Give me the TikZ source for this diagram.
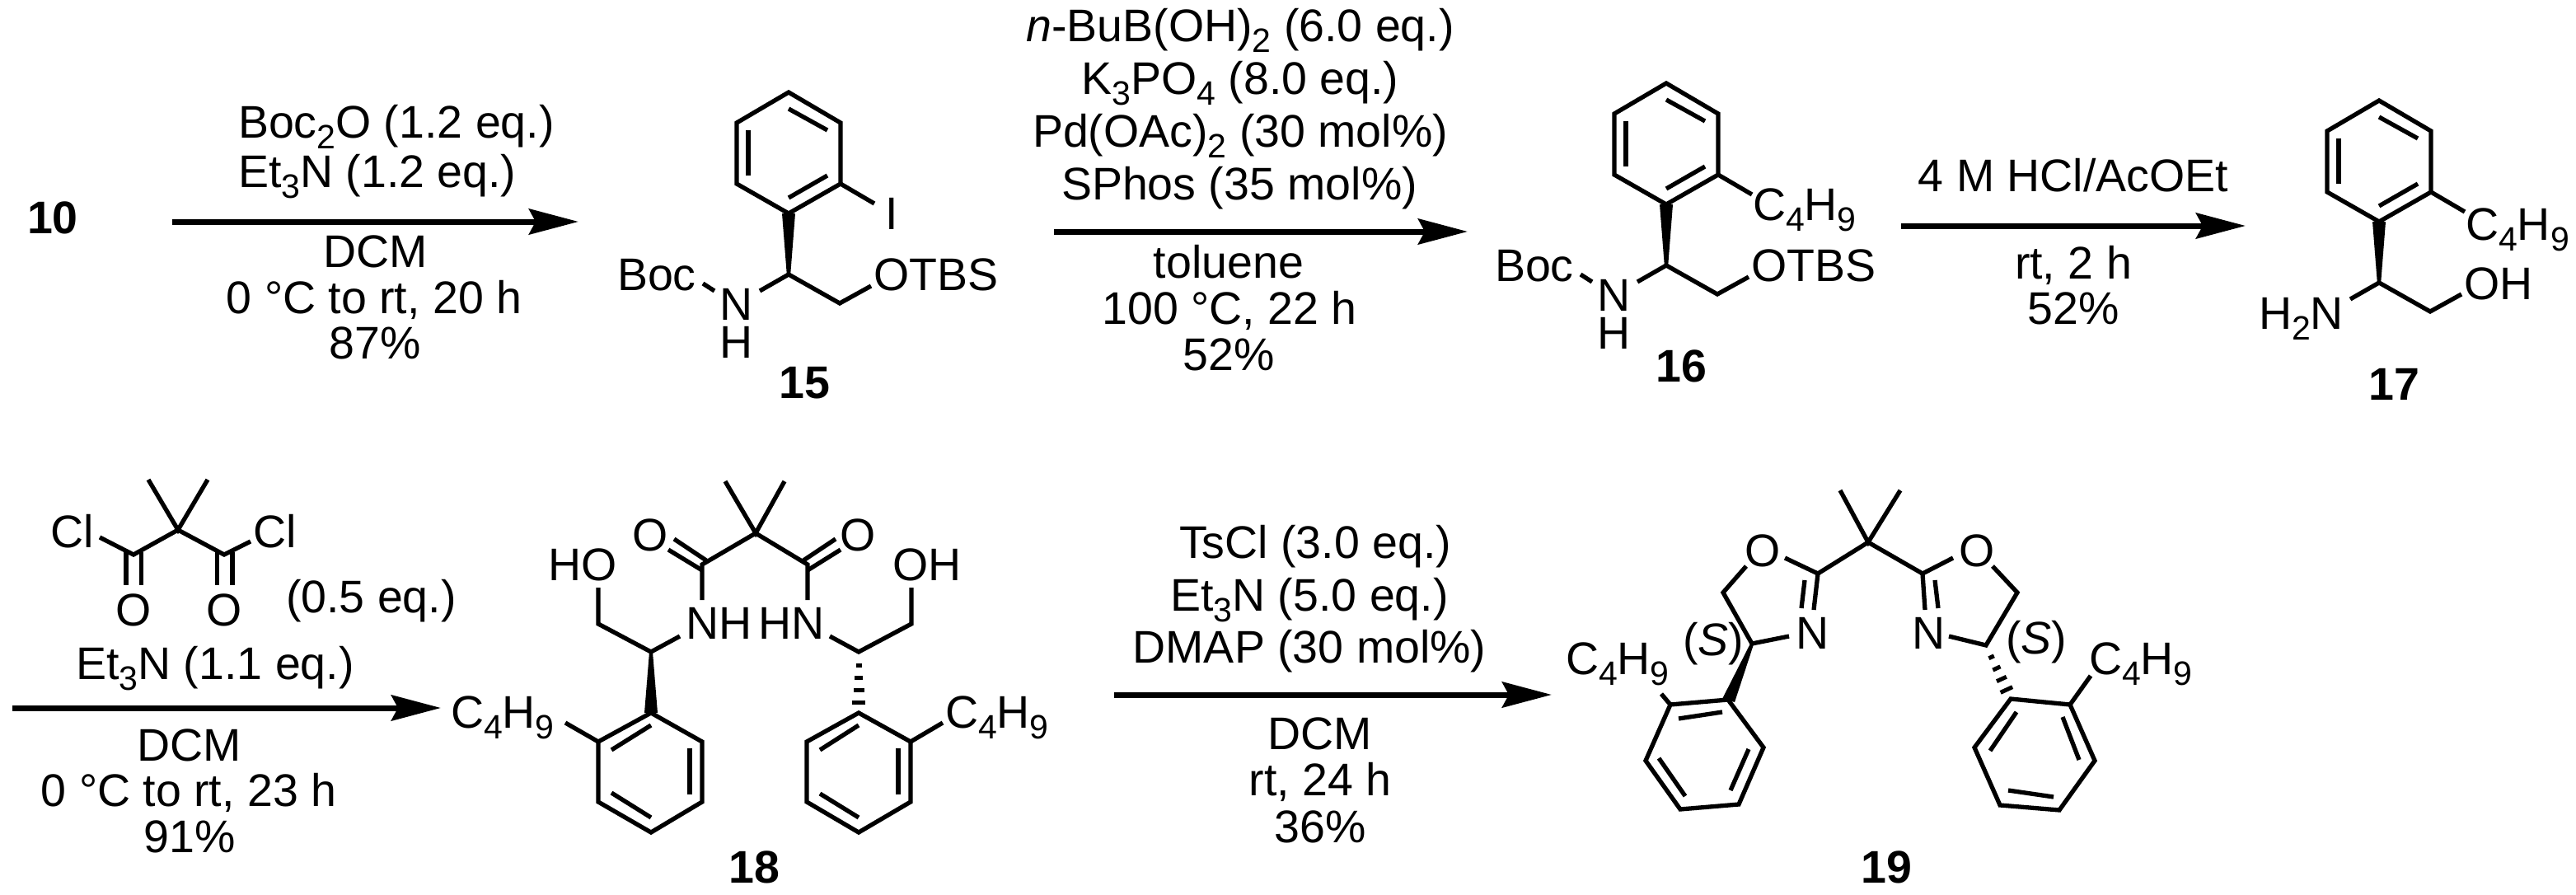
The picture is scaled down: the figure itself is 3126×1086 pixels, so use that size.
\documentclass[tikz,border=0pt]{standalone}
\usepackage{fontspec}
\setmainfont{Liberation Sans}
\usetikzlibrary{arrows.meta,calc}
\newcommand{\sbs}[1]{\raisebox{-13pt}{\fontsize{41}{41}\selectfont #1}}
\tikzset{
  bond/.style={line width=5.3pt,line cap=butt,line join=miter,miter limit=10},
  rxn/.style={line width=7pt,-{Stealth[length=60pt,width=31pt,inset=8pt]}},
  txt/.style={inner sep=0pt,outer sep=0pt,font=\fontsize{55.5}{60}\selectfont,anchor=base},
  lft/.style={txt,anchor=base west},
  lab/.style={txt,font=\fontsize{55.5}{60}\selectfont\bfseries}
}
% six-membered ring: closed outline through six named corners
\newcommand{\ringsix}[6]{\draw[bond] (#1)--(#2)--(#3)--(#4)--(#5)--(#6)--cycle;}
% hashed bond from narrow end #1 to wide end #2
\newcommand{\hashed}[2]{\foreach \t/\w in {.22/3.5,.43/5,.63/6.5,.83/8}{
  \coordinate (hp) at ($(#1)!\t!(#2)$);
  \draw[line width=5pt] ($(hp)!\w pt!90:(#2)$) -- ($(hp)!\w pt!-90:(#2)$);}}
% aryl amino-alcohol core shared by 15, 16, 17
\newcommand{\arylcore}{
  \coordinate (r1) at (957,112); \coordinate (r2) at (1020,149); \coordinate (r3) at (1020,223);
  \coordinate (r4) at (957,259); \coordinate (r5) at (894,223); \coordinate (r6) at (894,149);
  \coordinate (cs) at (957,333); \coordinate (ch) at (1019,368);
  \coordinate (ne) at (922,353); \coordinate (oe) at (1057,347); \coordinate (xe) at (1061,247);
  \ringsix{r1}{r2}{r3}{r4}{r5}{r6}
  \draw[bond] (908,158)--(908,213);
  \draw[bond] (957,132)--(1004,158);
  \draw[bond] (957,240)--(1004,213);
  \fill ($(cs)+(-2.2,0)$)--($(r4)+(-8,0)$)--($(r4)+(8,0)$)--($(cs)+(2.2,0)$)--cycle;
  \draw[bond] (ne)--(cs)--(ch)--(oe);
  \draw[bond] (r3)--(xe);
}
\begin{document}
\begin{tikzpicture}[x=1pt,y=-1pt]
\useasboundingbox (0,0) rectangle (3126,1086);

% ---------- 10 -> 15
\node[lab,anchor=base west] (n10) at (33,283) {10};
\coordinate (a1s) at (209,269); \coordinate (a1t) at (702,269);
\draw[rxn] (a1s)--(a1t);
\node[lft] (a1l1) at (289,168) {Boc\sbs{2}O (1.2 eq.)};
\node[lft] (a1l2) at (289,228) {Et\sbs{3}N (1.2 eq.)};
\node[txt] (a1l3) at (456,324) {DCM};
\node[txt] (a1l4) at (454,380) {0 °C to rt, 20 h};
\node[txt] (a1l5) at (455,435) {87\%};

% ---------- 15
\begin{scope}[name prefix=c15-]
  \arylcore
  \coordinate (be1) at (853,344); \coordinate (be2) at (867,353);
  \draw[bond] (be1)--(be2);
  \node[lft] (boc) at (749,352) {Boc};
  \node[lft] (nn) at (873,388) {N};
  \node[lft] (hh) at (873,434) {H};
  \node[lft] (otbs) at (1060,352) {OTBS};
  \node[txt] (iod) at (1082,278) {I};
  \node[lab] (lbl) at (976,483) {15};
\end{scope}

% ---------- 15 -> 16
\coordinate (a2s) at (1279,281); \coordinate (a2t) at (1781,281);
\draw[rxn] (a2s)--(a2t);
\node[txt] (a2l1) at (1505,51) {\textit{n}-BuB(OH)\sbs{2} (6.0 eq.)};
\node[txt] (a2l2) at (1505,115) {K\sbs{3}PO\sbs{4} (8.0 eq.)};
\node[txt] (a2l3) at (1505,179) {Pd(OAc)\sbs{2} (30 mol\%)};
\node[txt] (a2l4) at (1504,243) {SPhos (35 mol\%)};
\node[txt] (a2l5) at (1491,337) {toluene};
\node[txt] (a2l6) at (1492,393) {100 °C, 22 h};
\node[txt] (a2l7) at (1491,449) {52\%};

% ---------- 16
\begin{scope}[shift={(1065,-11)},name prefix=c16-]
  \arylcore
  \coordinate (be1) at (853,344); \coordinate (be2) at (867,353);
  \draw[bond] (be1)--(be2);
  \node[lft] (boc) at (749,352) {Boc};
  \node[lft] (nn) at (873,388) {N};
  \node[lft] (hh) at (873,434) {H};
  \node[lft] (otbs) at (1060,352) {OTBS};
  \node[lft] (ar) at (1062,278) {C\sbs{4}H\sbs{9}};
  \node[lab] (lbl) at (975,474) {16};
\end{scope}

% ---------- 16 -> 17
\coordinate (a3s) at (2307,274); \coordinate (a3t) at (2725,274);
\draw[rxn] (a3s)--(a3t);
\node[txt] (a3l1) at (2516,233) {4 M HCl/AcOEt};
\node[txt] (a3l2) at (2516,338) {rt, 2 h};
\node[txt] (a3l3) at (2516,393) {52\%};

% ---------- 17
\begin{scope}[shift={(1930,10)},name prefix=c17-]
  \arylcore
  \node[lft] (nh2) at (811,389) {H\sbs{2}N};
  \node[lft] (oh) at (1060,353) {OH};
  \node[lft] (ar) at (1062,281) {C\sbs{4}H\sbs{9}};
  \node[lab] (lbl) at (975,475) {17};
\end{scope}

% ---------- malonyl chloride reagent
\coordinate (m0) at (216,643); \coordinate (mm1) at (180,582); \coordinate (mm2) at (252,582);
\coordinate (ml) at (162,673); \coordinate (mr) at (272,673);
\coordinate (mcl) at (121,652); \coordinate (mcr) at (304,657);
\draw[bond] (mm1)--(m0)--(mm2);
\draw[bond] (mcl)--(ml)--(m0)--(mr)--(mcr);
\draw[bond] (153,670)--(153,710); \draw[bond] (171.5,670)--(171.5,710);
\draw[bond] (263.5,670)--(263.5,710); \draw[bond] (282,670)--(282,710);
\node[lft] (mcl1) at (61,664) {Cl};
\node[lft] (mcl2) at (307,664) {Cl};
\node[lft] (mo1) at (140,759) {O};
\node[lft] (mo2) at (250,759) {O};
\node[lft] (meq) at (347,743) {(0.5 eq.)};

% ---------- -> 18
\coordinate (a4s) at (15,859); \coordinate (a4t) at (535,859);
\draw[rxn] (a4s)--(a4t);
\node[txt] (a4l1) at (261,824) {Et\sbs{3}N (1.1 eq.)};
\node[txt] (a4l2) at (230,923) {DCM};
\node[txt] (a4l3) at (229,978) {0 °C to rt, 23 h};
\node[txt] (a4l4) at (230,1034) {91\%};

% ---------- 18
\coordinate (q) at (917,647); \coordinate (qm1) at (880,584); \coordinate (qm2) at (952,584);
\coordinate (cl) at (852,685); \coordinate (cr) at (980,685);
\coordinate (nl) at (852,728); \coordinate (nr) at (980,728);
\coordinate (sl) at (790,791); \coordinate (sr) at (1042,791);
\coordinate (nbl) at (825,772); \coordinate (nbr) at (1007,772);
\coordinate (chl) at (726,757); \coordinate (chr) at (1106,757);
\coordinate (ohl) at (726,713); \coordinate (ohr) at (1106,713);
\draw[bond] (qm1)--(q)--(qm2);
\draw[bond] (nl)--(cl)--(q)--(cr)--(nr);
\draw[bond] (811,667)--(852,692); \draw[bond] (818,654)--(857,680);
\draw[bond] (1020,667)--(980,692); \draw[bond] (1014,654)--(975,680);
\draw[bond] (ohl)--(chl)--(sl)--(nbl);
\draw[bond] (ohr)--(chr)--(sr)--(nbr);
\coordinate (la) at (790,865); \coordinate (lb) at (852,900); \coordinate (lc) at (852,973);
\coordinate (ld) at (790,1010); \coordinate (le) at (726,973); \coordinate (lf) at (726,900);
\ringsix{la}{lb}{lc}{ld}{le}{lf}
\draw[bond] (742,910)--(790,880); \draw[bond] (837,908)--(837,964); \draw[bond] (742,962)--(790,992);
\fill ($(sl)+(-2,0)$)--($(la)+(-8,0)$)--($(la)+(8,0)$)--($(sl)+(2,0)$)--cycle;
\coordinate (ra) at (1042,865); \coordinate (rb) at (1105,900); \coordinate (rc) at (1105,973);
\coordinate (rd) at (1042,1010); \coordinate (re) at (979,973); \coordinate (rf) at (979,900);
\ringsix{ra}{rb}{rc}{rd}{re}{rf}
\draw[bond] (995,910)--(1042,880); \draw[bond] (1090,908)--(1090,964); \draw[bond] (995,963)--(1042,992);
\hashed{sr}{ra}
\coordinate (bl) at (686,877); \coordinate (br) at (1144,877);
\draw[bond] (lf)--(bl); \draw[bond] (rb)--(br);
\node[lft] (o18l) at (767,668) {O};
\node[lft] (o18r) at (1019,668) {O};
\node[lft] (nh18) at (832,775) {NH};
\node[lft] (hn18) at (920,775) {HN};
\node[lft] (ho18) at (665,704) {HO};
\node[lft] (oh18) at (1083,704) {OH};
\node[lft] (ar18l) at (547,883) {C\sbs{4}H\sbs{9}};
\node[lft] (ar18r) at (1147,883) {C\sbs{4}H\sbs{9}};
\node[lab] (lb18) at (915,1071) {18};

% ---------- 18 -> 19
\coordinate (a5s) at (1352,843); \coordinate (a5t) at (1883,843);
\draw[rxn] (a5s)--(a5t);
\node[txt] (a5l1) at (1596,677) {TsCl (3.0 eq.)};
\node[txt] (a5l2) at (1589,741) {Et\sbs{3}N (5.0 eq.)};
\node[txt] (a5l3) at (1589,804) {DMAP (30 mol\%)};
\node[txt] (a5l4) at (1602,909) {DCM};
\node[txt] (a5l5) at (1602,965) {rt, 24 h};
\node[txt] (a5l6) at (1602,1022) {36\%};

% ---------- 19
\coordinate (p) at (2267,658); \coordinate (pm1) at (2233,595); \coordinate (pm2) at (2306,595);
\coordinate (pl) at (2206,696); \coordinate (pr) at (2333,696);
\coordinate (pol) at (2166,677); \coordinate (por) at (2370,677);
\coordinate (poe) at (2119,687); \coordinate (pof) at (2418,687);
\coordinate (pcl) at (2091,719); \coordinate (pcr) at (2448,719);
\coordinate (psl) at (2126,781); \coordinate (psr) at (2410,783);
\coordinate (pnl) at (2171,772); \coordinate (pnr) at (2365,772);
\draw[bond] (pm1)--(p)--(pm2);
\draw[bond] (pol)--(pl)--(p)--(pr)--(por);
\draw[bond] (poe)--(pcl)--(psl)--(pnl);
\draw[bond] (pof)--(pcr)--(psr)--(pnr);
\draw[bond] (pl)--(2201,740); \draw[bond] (2190,704)--(2186,738);
\draw[bond] (pr)--(2336,740); \draw[bond] (2348,704)--(2352,738);
\coordinate (ta) at (2027,855); \coordinate (tb) at (2097,849); \coordinate (tc) at (2140,907);
\coordinate (td) at (2110,976); \coordinate (te) at (2039,982); \coordinate (tf) at (1997,923);
\ringsix{ta}{tb}{tc}{td}{te}{tf}
\draw[bond] (2037,872)--(2090,864); \draw[bond] (2122,909)--(2100,959); \draw[bond] (2013,920)--(2045,966);
\fill ($(psl)+(-2,0)$)--($(tb)+(-7,-1)$)--($(tb)+(8,3)$)--($(psl)+(2,1)$)--cycle;
\coordinate (ua) at (2440,848); \coordinate (ub) at (2512,855); \coordinate (uc) at (2542,923);
\coordinate (ud) at (2499,983); \coordinate (ue) at (2427,977); \coordinate (uf) at (2396,907);
\ringsix{ua}{ub}{uc}{ud}{ue}{uf}
\draw[bond] (2447,864)--(2415,911); \draw[bond] (2503,870)--(2523,922); \draw[bond] (2437,959)--(2492,967);
\hashed{psr}{ua}
\coordinate (tx) at (2016,842); \coordinate (ux) at (2537,820);
\draw[bond] (ta)--(tx); \draw[bond] (ub)--(ux);
\node[lft] (o19l) at (2117,687) {O};
\node[lft] (o19r) at (2377,687) {O};
\node[lft] (n19l) at (2179,787) {N};
\node[lft] (n19r) at (2320,787) {N};
\node[lft] (s19l) at (2042,795) {(\textit{S})};
\node[lft] (s19r) at (2434,793) {(\textit{S})};
\node[lft] (ar19l) at (1900,818) {C\sbs{4}H\sbs{9}};
\node[lft] (ar19r) at (2535,818) {C\sbs{4}H\sbs{9}};
\node[lab] (lb19) at (2289,1071) {19};
\end{tikzpicture}
\end{document}
